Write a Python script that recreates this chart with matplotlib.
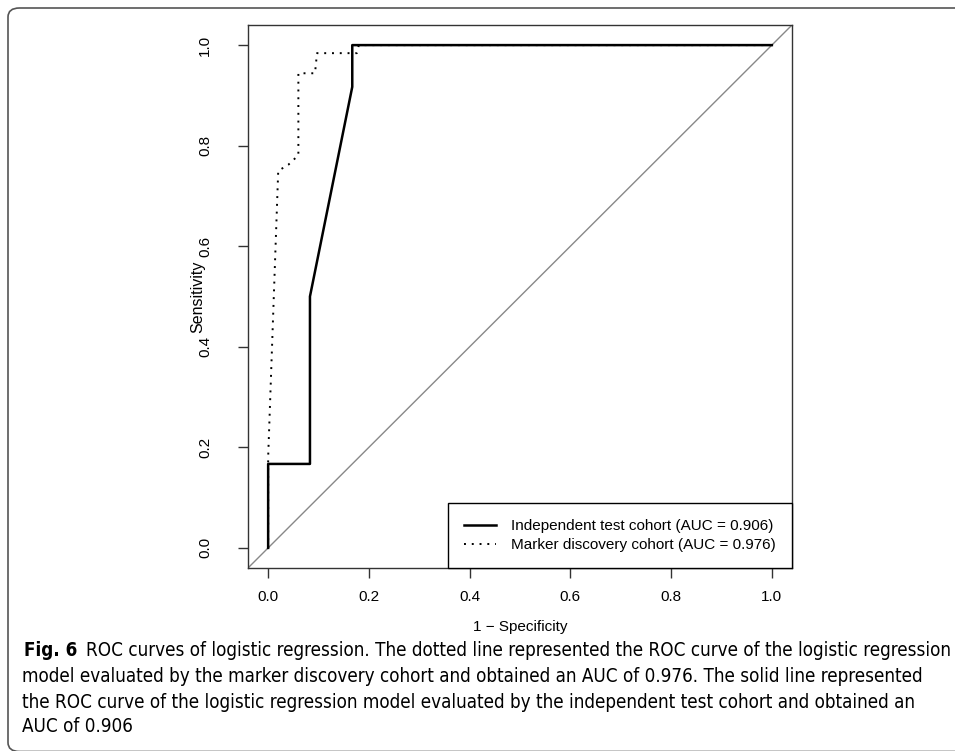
import matplotlib
matplotlib.use("Agg")
import matplotlib.pyplot as plt
from matplotlib.patches import FancyBboxPatch

# ROC points
test_fpr = [0.0, 0.0, 0.083, 0.083, 0.167, 0.167, 1.0]
test_tpr = [0.0, 0.167, 0.167, 0.5, 0.917, 1.0, 1.0]

disc_fpr = [0.0, 0.0, 0.02, 0.04, 0.06, 0.06, 0.093, 0.097, 0.176, 0.18, 1.0]
disc_tpr = [0.0, 0.18, 0.75, 0.762, 0.781, 0.944, 0.944, 0.984, 0.984, 1.0, 1.0]

legend_labels = ["Independent test cohort (AUC = 0.906)",
                 "Marker discovery cohort (AUC = 0.976)"]
ticks = [0.0, 0.2, 0.4, 0.6, 0.8, 1.0]

caption_bold = "Fig. 6"
caption_lines = [
    "ROC curves of logistic regression. The dotted line represented the ROC curve of the logistic regression",
    "model evaluated by the marker discovery cohort and obtained an AUC of 0.976. The solid line represented",
    "the ROC curve of the logistic regression model evaluated by the independent test cohort and obtained an",
    "AUC of 0.906",
]

plt.rcParams["font.family"] = ["Liberation Sans", "DejaVu Sans"]

W, H = 955, 751
fig = plt.figure(figsize=(W / 100, H / 100), dpi=100)

# rounded frame around the figure panel
frame = FancyBboxPatch((8 / W, 1 - 751.5 / H), 1.2, (751.5 - 8) / H,
                       boxstyle="round,pad=0,rounding_size=0.012",
                       transform=fig.transFigure, fill=False,
                       edgecolor="#555555", lw=1.2)
fig.patches.append(frame)

ax = fig.add_axes([248 / W, 1 - 568 / H, (792 - 248) / W, (568 - 25) / H])

ax.axline((0, 0), (1, 1), color="#888888", lw=1.0)
ax.plot(test_fpr, test_tpr, color="black", lw=1.8, label=legend_labels[0])
ax.plot(disc_fpr, disc_tpr, color="black", lw=1.4, linestyle=(0, (1, 3)),
        label=legend_labels[1])

ax.set_xlim(-0.04, 1.04)
ax.set_ylim(-0.04, 1.04)
ax.set_xticks(ticks)
ax.set_yticks(ticks)
ax.set_xticklabels([f"{t:.1f}" for t in ticks])
ax.set_yticklabels([f"{t:.1f}" for t in ticks], rotation=90, va="center")
ax.tick_params(axis="both", labelsize=11, length=7, color="#333333", width=1.0)
ax.tick_params(axis="x", pad=9)
ax.tick_params(axis="y", pad=19)
for s in ax.spines.values():
    s.set_color("#333333")
    s.set_linewidth(1.0)

ax.set_xlabel("1 \u2212 Specificity", fontsize=11, labelpad=11)
ax.set_ylabel("Sensitivity", fontsize=11.5, labelpad=-5)

leg = ax.legend(loc="lower right", borderaxespad=0, fancybox=False,
                edgecolor="black", framealpha=1, fontsize=11,
                handlelength=2.1, handletextpad=1.0, borderpad=1.05,
                labelspacing=0.3)
leg.get_frame().set_linewidth(1.0)

# caption, condensed face to match the journal typeface width
cap = dict(family="DejaVu Sans", stretch="condensed", va="center")
fig.text(24 / W, 1 - 650 / H, caption_bold, fontsize=13.5, fontweight="bold", **cap)
ys = [650, 676, 702, 727]
xs = [86, 22, 22, 22]
for x, y, line in zip(xs, ys, caption_lines):
    fig.text(x / W, 1 - y / H, line, fontsize=13.5, **cap)

fig.savefig("out.png", dpi=100)
